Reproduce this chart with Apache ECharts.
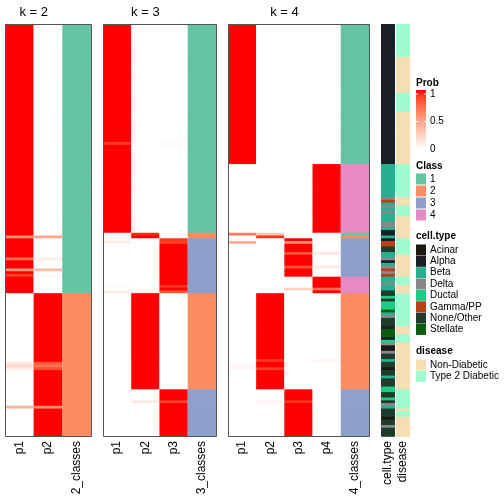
<!DOCTYPE html>
<html><head><meta charset="utf-8">
<script src="https://cdn.jsdelivr.net/npm/echarts/dist/echarts.min.js"></script>
<style>html,body{margin:0;padding:0;background:#fff}#c{width:504px;height:504px}</style>
</head><body><div id="c"></div>
<script>
// ---------------- data (one value per sample row, top to bottom) ----------------
const k2_p1 = [
1,1,1,1,1,1,1,1,1,1, 1,1,1,1,1,1,1,1,1,1, 1,1,1,1,1,1,1,1,1,1, 1,1,1,1,1,1,1,1,1,1,
1,1,1,1,1,1,1,1,1,1, 1,1,1,1,1,1,1,1,1,1, 1,1,1,1,1,1,1,1,1,1, 1,1,1,1,1,1,1,0.55,1,1,
1,1,1,1,1,0.7,1,1,1,0.5, 1,0.9,1,1,1,1,1,1,0,0, 0,0,0,0,0,0,0,0,0,0, 0,0,0,0,0,0,0,0,0,0,
0,0,0,0.12,0.2,0.1,0,0,0,0, 0,0,0,0,0,0,0,0,0,0.4, 0,0,0,0,0,0,0,0,0,0];
const k2_p2 = [
0,0,0,0,0,0,0,0,0,0, 0,0,0,0,0,0,0,0,0,0, 0,0,0,0,0,0,0,0,0,0, 0,0,0,0,0,0,0,0,0,0,
0,0,0,0,0,0,0,0,0,0, 0,0,0,0,0,0,0,0,0,0, 0,0,0,0,0,0,0,0,0,0, 0,0,0,0,0,0,0,0.45,0,0,
0,0,0,0,0,0.1,0,0,0,0.35, 0,0.03,0,0,0,0,0,0,1,1, 1,1,1,1,1,1,1,1,1,1, 1,1,1,1,1,1,1,1,1,1,
1,1,1,0.8,0.7,0.85,1,1,1,1, 1,1,1,1,1,1,1,1,1,0.55, 1,1,1,1,1,1,1,1,1,1];
const k2_cls = [
1,1,1,1,1,1,1,1,1,1, 1,1,1,1,1,1,1,1,1,1, 1,1,1,1,1,1,1,1,1,1, 1,1,1,1,1,1,1,1,1,1,
1,1,1,1,1,1,1,1,1,1, 1,1,1,1,1,1,1,1,1,1, 1,1,1,1,1,1,1,1,1,1, 1,1,1,1,1,1,1,1,1,1,
1,1,1,1,1,1,1,1,1,1, 1,1,1,1,1,1,1,1,2,2, 2,2,2,2,2,2,2,2,2,2, 2,2,2,2,2,2,2,2,2,2,
2,2,2,2,2,2,2,2,2,2, 2,2,2,2,2,2,2,2,2,2, 2,2,2,2,2,2,2,2,2,2];

const k3_p1 = [
1,1,1,1,1,1,1,1,1,1, 1,1,1,1,1,1,1,1,1,1, 1,1,1,1,1,1,1,1,1,1, 1,1,1,1,1,1,1,1,1,1,
1,1,1,0.9,1,1,1,1,1,1, 1,1,1,1,1,1,1,1,1,1, 1,1,1,1,1,1,1,1,1,1, 1,1,1,1,1,1,0,0,0.04,0.1,
0,0,0,0,0,0,0,0,0,0, 0,0,0,0,0,0.03,0,0.1,0,0, 0,0,0,0,0,0,0,0,0,0, 0,0,0,0,0,0,0,0,0,0,
0,0,0,0,0,0,0,0,0,0, 0,0,0,0,0,0,0,0,0,0, 0,0,0,0,0,0,0,0,0,0];
const k3_p2 = [
0,0,0,0,0,0,0,0,0,0, 0,0,0,0,0,0,0,0,0,0, 0,0,0,0,0,0,0,0,0,0, 0,0,0,0,0,0,0,0,0,0,
0,0,0,0,0,0,0,0,0,0, 0,0,0,0,0,0,0,0,0,0, 0,0,0,0,0,0,0,0,0,0, 0,0,0,0,0,0,0.95,1,0,0,
0,0,0,0,0,0,0,0,0,0, 0,0,0,0,0,0,0,0.08,1,1, 1,1,1,1,1,1,1,1,1,1, 1,1,1,1,1,1,1,1,1,1,
1,1,1,1,1,1,1,1,1,1, 1,1,1,0,0,0,0,0.12,0,0, 0,0,0,0,0,0,0,0,0,0];
const k3_p3 = [
0,0,0,0,0,0,0,0,0,0, 0,0,0,0,0,0,0,0,0,0, 0,0,0,0,0,0,0,0,0,0, 0,0,0,0,0,0,0,0,0,0,
0,0,0,0.03,0,0,0,0,0,0, 0,0,0,0,0,0,0,0,0,0, 0,0,0,0,0,0,0,0,0,0, 0,0,0,0,0,0,0.05,0,0.92,0.9,
1,1,1,1,1,1,1,1,1,1, 1,1,1,1,1,0.92,1,0.82,0,0, 0,0,0,0,0,0,0,0,0,0, 0,0,0,0,0,0,0,0,0,0,
0,0,0,0,0,0,0,0,0,0, 0,0,0,1,1,1,1,0.88,1,1, 1,1,1,1,1,1,1,1,1,1];
const k3_cls = [
1,1,1,1,1,1,1,1,1,1, 1,1,1,1,1,1,1,1,1,1, 1,1,1,1,1,1,1,1,1,1, 1,1,1,1,1,1,1,1,1,1,
1,1,1,1,1,1,1,1,1,1, 1,1,1,1,1,1,1,1,1,1, 1,1,1,1,1,1,1,1,1,1, 1,1,1,1,1,1,2,2,3,3,
3,3,3,3,3,3,3,3,3,3, 3,3,3,3,3,3,3,3,2,2, 2,2,2,2,2,2,2,2,2,2, 2,2,2,2,2,2,2,2,2,2,
2,2,2,2,2,2,2,2,2,2, 2,2,2,3,3,3,3,3,3,3, 3,3,3,3,3,3,3,3,3,3];

const k4_p1 = [
1,1,1,1,1,1,1,1,1,1, 1,1,1,1,1,1,1,1,1,1, 1,1,1,1,1,1,1,1,1,1, 1,1,1,1,1,1,1,1,1,1,
1,1,1,1,1,1,1,1,1,1, 1,0,0,0,0,0,0,0,0,0, 0,0,0,0,0,0,0,0,0,0, 0,0,0,0,0,0,0.65,0,0,0.42,
0,0,0,0,0,0,0,0,0,0, 0,0,0,0,0,0,0,0,0,0, 0,0,0,0,0,0,0,0,0,0, 0,0,0,0,0,0,0,0,0,0,
0,0,0,0,0.04,0.04,0,0,0,0, 0,0,0,0,0,0,0,0,0,0, 0,0,0,0,0,0,0,0,0,0];
const k4_p2 = [
0,0,0,0,0,0,0,0,0,0, 0,0,0,0,0,0,0,0,0,0, 0,0,0,0,0,0,0,0,0,0, 0,0,0,0,0,0,0,0,0,0,
0,0,0,0,0,0,0,0,0,0, 0,0,0,0,0,0,0,0,0,0, 0,0,0,0,0,0,0,0,0,0, 0,0,0,0,0,0,0.3,0.92,0,0,
0,0,0,0,0,0,0,0,0,0, 0,0,0,0,0,0,0,0,1,1, 1,1,1,1,1,1,1,1,1,1, 1,1,1,1,1,1,1,1,1,1,
1,1,0.92,1,1,0.9,1,1,1,1, 1,1,1,0,0,0,0,0.05,0,0, 0,0,0,0,0,0,0,0,0,0];
const k4_p3 = [
0,0,0,0,0,0,0,0,0,0, 0,0,0,0,0,0,0,0,0,0, 0,0,0,0,0,0,0,0,0,0, 0,0,0,0,0,0,0,0,0,0,
0,0,0,0,0,0,0,0,0,0, 0,0,0,0,0,0,0,0,0,0, 0,0,0,0,0,0,0,0,0,0, 0,0,0,0,0,0,0,0,1,0.55,
1,1,1,0.82,1,1,1,1,0.82,1, 1,1,0,0,0,0,0.25,0,0,0, 0,0,0,0,0,0,0,0,0,0, 0,0,0,0,0,0,0,0,0,0,
0,0,0,0,0,0,0,0,0,0, 0,0,0,1,1,1,1,0.92,1,1, 1,1,1,1,1,1,1,1,1,1];
const k4_p4 = [
0,0,0,0,0,0,0,0,0,0, 0,0,0,0,0,0,0,0,0,0, 0,0,0,0,0,0,0,0,0,0, 0,0,0,0,0,0,0,0,0,0,
0,0,0,0,0,0,0,0,0,0, 0,1,1,1,1,1,1,1,1,1, 1,1,1,1,1,1,1,1,1,1, 1,1,1,1,1,1,0,0,0,0,
0,0,0,0.12,0,0,0,0,0.12,0, 0,0,1,1,1,1,0.72,1,0,0, 0,0,0,0,0,0,0,0,0,0, 0,0,0,0,0,0,0,0,0,0,
0,0,0.05,0,0,0,0,0,0,0, 0,0,0,0,0,0,0,0,0,0, 0,0,0,0,0,0,0,0,0,0];
const k4_cls = [
1,1,1,1,1,1,1,1,1,1, 1,1,1,1,1,1,1,1,1,1, 1,1,1,1,1,1,1,1,1,1, 1,1,1,1,1,1,1,1,1,1,
1,1,1,1,1,1,1,1,1,1, 1,4,4,4,4,4,4,4,4,4, 4,4,4,4,4,4,4,4,4,4, 4,4,4,4,4,4,1,2,3,3,
3,3,3,3,3,3,3,3,3,3, 3,3,4,4,4,4,4,4,2,2, 2,2,2,2,2,2,2,2,2,2, 2,2,2,2,2,2,2,2,2,2,
2,2,2,2,2,2,2,2,2,2, 2,2,2,3,3,3,3,3,3,3, 3,3,3,3,3,3,3,3,3,3];

// cell.type index into cellTypeNames
const cellTypeNames = ['Acinar','Alpha','Beta','Delta','Ductal','Gamma/PP','None/Other','Stellate'];
const cellType = [
1,1,1,1,1,1,1,1,1,1, 1,1,1,1,1,1,1,1,1,1, 1,1,1,1,1,1,1,1,1,1, 1,1,1,1,1,1,1,1,1,1,
1,1,1,1,1,1,1,1,1,1, 1,2,2,2,2,2,2,2,2,2, 2,2,2,3,5,2,3,2,3,2, 2,2,3,3,2,1,1,2,1,5,
5,6,6,2,2,3,1,2,3,5, 3,5,2,2,3,2,2,6,6,4, 6,4,4,4,7,2,3,6,6,6, 1,7,7,7,1,4,3,0,0,3,
6,6,2,6,6,0,6,6,2,6, 6,6,4,4,6,6,4,6,3,2, 6,6,6,0,6,6,3,6,6,6];
const diseaseNames = ['Non-Diabetic','Type 2 Diabetic'];
const disease = [
1,1,1,1,1,1,1,1,1,1, 1,1,0,0,0,0,0,0,0,0, 0,0,0,0,0,1,1,1,1,1, 1,1,0,0,0,0,0,0,0,0,
0,0,0,0,0,0,0,0,0,0, 0,1,1,1,1,1,1,1,1,1, 1,1,1,0,0,0,1,1,1,1, 0,0,0,0,0,0,0,0,1,1,
1,1,1,1,0,0,0,0,0,0, 0,0,1,1,1,0,0,0,1,1, 1,1,1,1,1,1,1,1,1,1, 0,0,0,1,1,1,0,0,0,0,
0,0,0,0,0,0,0,0,0,0, 0,0,0,1,1,1,1,1,1,1, 0,1,1,0,0,0,0,0,0,0];

const classNames = ['1','2','3','4'];
const probTicks = ['1','0.5','0'];

// ---------------- styles ----------------
const classColors = {1:'#66C2A5',2:'#FC8D62',3:'#8DA0CB',4:'#E78AC3'};
const cellTypeColors = ['#1C1A12','#1B2028','#26B08F','#888888','#1DCC84','#B6401A','#1F3D2A','#0D5C0D'];
const diseaseColors = ['#F5DEB3','#A0FBD0'];
const FONT = 'Liberation Sans, Arial, sans-serif';

function labToHex(L, A, B) {
  const fy = (L + 16) / 116, fx = fy + A / 500, fz = fy - B / 200;
  const finv = t => t > 6/29 ? t*t*t : 3*(6/29)*(6/29)*(t - 4/29);
  const X = 0.95047*finv(fx), Y = finv(fy), Z = 1.08883*finv(fz);
  let r = 3.2404542*X - 1.5371385*Y - 0.4985314*Z;
  let g = -0.9692660*X + 1.8760108*Y + 0.0415560*Z;
  let b = 0.0556434*X - 0.2040259*Y + 1.0572252*Z;
  const gam = c => { c = Math.max(0, Math.min(1, c)); return c <= 0.0031308 ? 12.92*c : 1.055*Math.pow(c, 1/2.4) - 0.055; };
  const h = c => ('0' + Math.round(gam(c)*255).toString(16)).slice(-2);
  return '#' + h(r) + h(g) + h(b);
}
function probColor(p) { return labToHex(100 + (53.24 - 100)*p, 80.09*p, 67.20*p); }

const rowIds = k2_p1.map((_, i) => String(i));
const TOP = 24, H = 412;

const panels = [
  {left:5,   width:86,  title:'k = 2', cols:['p1','p2','2_classes'], probs:[k2_p1,k2_p2], cls:k2_cls},
  {left:103, width:113, title:'k = 3', cols:['p1','p2','p3','3_classes'], probs:[k3_p1,k3_p2,k3_p3], cls:k3_cls},
  {left:228, width:141, title:'k = 4', cols:['p1','p2','p3','p4','4_classes'], probs:[k4_p1,k4_p2,k4_p3,k4_p4], cls:k4_cls}
];
const annots = [
  {left:381, width:14, name:'cell.type', vals:cellType, colors:cellTypeColors},
  {left:396, width:14, name:'disease', vals:disease, colors:diseaseColors}
];

const grid = [], xAxis = [], yAxis = [], series = [], graphic = [];
const xLabel = {rotate:90, fontSize:12, color:'#000', fontFamily:FONT, margin:5, interval:0};
function addGrid(left, width, cats) {
  const gi = grid.length;
  grid.push({left:left, width:width, top:TOP, height:H, containLabel:false});
  xAxis.push({type:'category', gridIndex:gi, data:cats, position:'bottom',
    axisLine:{show:false}, axisTick:{show:false}, axisLabel:xLabel, splitLine:{show:false}});
  yAxis.push({type:'category', gridIndex:gi, data:rowIds, inverse:true, show:false});
  return gi;
}
// cell tiles drawn through the axes' scales; slight vertical overlap avoids hairline seams
function renderCell(params, api) {
  const c = api.coord([api.value(0), api.value(1)]);
  const s = api.size([1, 1]);
  return {type:'rect', shape:{x:c[0] - s[0]/2, y:c[1] - s[1]/2, width:s[0], height:s[1] + 0.8},
    style:{fill:api.visual('color'), stroke:null}};
}
function cellSeries(gi, data) {
  return {type:'custom', xAxisIndex:gi, yAxisIndex:gi, data:data, renderItem:renderCell,
    animation:false, silent:true, encode:{x:0, y:1}};
}

panels.forEach(p => {
  const gi = addGrid(p.left, p.width, p.cols);
  const data = [];
  p.probs.forEach((arr, ci) => arr.forEach((v, ri) => data.push({value:[ci, ri, v], itemStyle:{color:probColor(v)}})));
  const ci = p.probs.length;
  p.cls.forEach((c, ri) => data.push({value:[ci, ri, c], itemStyle:{color:classColors[c]}}));
  series.push(cellSeries(gi, data));
  const titleX = p.left + p.width * (p.probs.length / p.cols.length) / 2;
  graphic.push({type:'text', x:titleX, y:12, style:{text:p.title, textAlign:'center', textVerticalAlign:'middle',
    font:'13px ' + FONT, fill:'#000'}});
  graphic.push({type:'rect', shape:{x:p.left+0.5, y:TOP+0.5, width:p.width, height:H}, style:{fill:null, stroke:'#555', lineWidth:1}, z:100, silent:true});
});
annots.forEach(a => {
  const gi = addGrid(a.left, a.width, [a.name]);
  const data = a.vals.map((v, ri) => ({value:[0, ri, v], itemStyle:{color:a.colors[v]}}));
  series.push(cellSeries(gi, data));
});

// ---------------- legends ----------------
const LX = 416, TX = 430;
function title(txt, y) { graphic.push({type:'text', x:LX, y:y, style:{text:txt, textVerticalAlign:'middle', font:'bold 10px ' + FONT, fill:'#000'}}); }
function label(txt, y) { graphic.push({type:'text', x:TX, y:y, style:{text:txt, textVerticalAlign:'middle', font:'10px ' + FONT, fill:'#000'}}); }
title('Prob', 83);
const stops = [];
for (let i = 0; i <= 10; i++) stops.push({offset:i/10, color:probColor(1 - i/10)});
graphic.push({type:'rect', shape:{x:LX, y:90, width:10, height:59}, style:{fill:{type:'linear', x:0, y:0, x2:0, y2:1, colorStops:stops}}});
const tickY = [94, 121.5, 149];
probTicks.forEach((t, i) => {
  label(t, tickY[i]);
  graphic.push({type:'line', shape:{x1:LX, y1:tickY[i], x2:LX+2, y2:tickY[i]}, style:{stroke:'#fff', lineWidth:1}});
  graphic.push({type:'line', shape:{x1:LX+8, y1:tickY[i], x2:LX+10, y2:tickY[i]}, style:{stroke:'#fff', lineWidth:1}});
});
function block(names, colors, y0, step) {
  names.forEach((n, i) => {
    const y = y0 + i*step;
    graphic.push({type:'rect', shape:{x:LX, y:y - 5.5, width:10, height:11}, style:{fill:colors[i]}});
    label(n, y);
  });
}
title('Class', 166);
block(classNames, classNames.map(c => classColors[+c]), 179, 12);
title('cell.type', 236);
block(cellTypeNames, cellTypeColors, 250, 11.35);
title('disease', 351);
block(diseaseNames, diseaseColors, 365, 11.35);

const chart = echarts.init(document.getElementById('c'), null, {renderer:'canvas'});
chart.setOption({animation:false, backgroundColor:'#fff', grid, xAxis, yAxis, series, graphic});
</script>
</body></html>
